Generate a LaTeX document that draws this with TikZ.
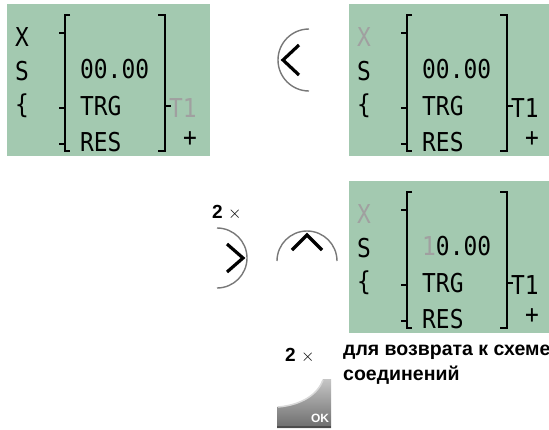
\documentclass[tikz,border=0pt]{standalone}
\usepackage{fontspec}
\setmainfont{Liberation Sans}
\newfontfamily\lcd[FakeStretch=0.88]{DejaVu Sans Mono}
\definecolor{lcdgreen}{RGB}{163,201,176}
\definecolor{lcdgray}{RGB}{160,160,160}
\definecolor{arcgray}{RGB}{120,120,120}
\begin{document}
\begin{tikzpicture}[x=1pt,y=-1pt,
  lcdtext/.style={font=\lcd\fontsize{26}{26}\selectfont,inner sep=0pt},
  brk/.style={line width=2.4pt},
  keyarc/.style={draw=arcgray,line width=1.4pt},
  chev/.style={line width=3.2pt,line join=miter},
  note/.style={font=\bfseries\fontsize{19.5}{25}\selectfont,inner sep=0pt},
  times/.style={font=\bfseries\fontsize{19}{19}\selectfont,inner sep=0pt}]
 \useasboundingbox (0,0) rectangle (549,429);
 % three display panels
 \foreach \dx/\dy/\xc/\tc/\fc/\dg [count=\i] in {0/0/black/lcdgray/black/0,342/0/lcdgray/black/black/0,342/177/lcdgray/black/lcdgray/1}{
  \begin{scope}[shift={(\dx,\dy)}]
   \fill[lcdgreen] (7,4) rectangle (210,156);
   \draw[brk] (70,15)--(65,15)--(65,151)--(70,151);
   \foreach \t in {33,108,144}{\draw[brk] (59,\t)--(65,\t);}
   \draw[brk] (158,15)--(165,15)--(165,151)--(158,151);
   \draw[brk] (165,106)--(171,106);
   \node[lcdtext,text=\xc] (x\i) at (22,37) {X};
   \node[lcdtext] (s\i) at (22,71) {S};
   \node[lcdtext] (b\i) at (22,106) {\{};
   \node[lcdtext,anchor=west] (val\i) at (80,69) {\textcolor{\fc}{\dg}0.00};
   \node[lcdtext,anchor=west] (trg\i) at (80,106) {TRG};
   \node[lcdtext,anchor=west] (res\i) at (80,142) {RES};
   \node[lcdtext,text=\tc,anchor=west] (t\i) at (169,108) {T1};
   \node[lcdtext] (p\i) at (190,139) {+};
  \end{scope}}
 % arrow keys
 \draw[keyarc] (309,29) arc (270:90:31);
 \draw[chev] (299,45)--(283,60)--(299,75);
 \node[times,anchor=west] (twoa) at (212,213) {2\;{\mdseries$\times$}};
 \draw[keyarc] (217,228) arc (-90:90:30);
 \draw[chev] (227,244)--(243,258)--(227,272);
 \draw[keyarc] (277,261) arc (180:360:30);
 \draw[chev] (292,250)--(307,235)--(322,250);
 % OK key
 \node[times,anchor=west] (twob) at (285,356) {2\;{\mdseries$\times$}};
 \shade[top color=gray!45,bottom color=gray!85!black]
  (277,428)--(277,407) .. controls (302,405) and (318,394) .. (323,379)--(331,379)--(331,428)--cycle;
 \draw[white!70!gray,line width=1.5pt] (278,407) .. controls (302,405) and (318,394) .. (323,380);
 \draw[gray!60!black,line width=2pt] (277,427)--(331,427);
 \node[font=\bfseries\fontsize{12}{12}\selectfont,text=white,inner sep=0pt] (ok) at (320,418) {OK};
 \node[note,anchor=north west,align=left] (msg) at (343,345) {для возврата к схеме\\соединений};
\end{tikzpicture}
\end{document}
